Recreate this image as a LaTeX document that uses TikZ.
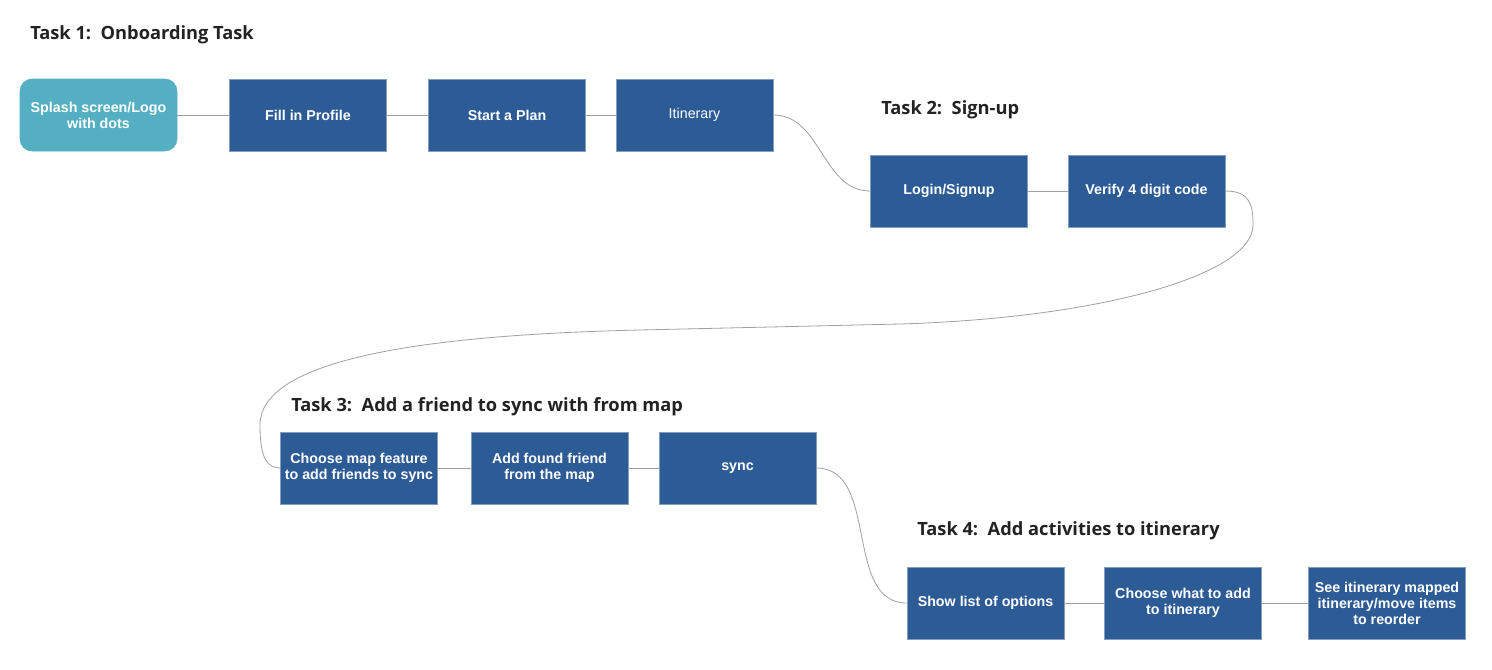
\documentclass[tikz,border=0pt]{standalone}
\usepackage{fontspec}
\setmainfont{Liberation Sans}
\newfontfamily\titlefont{Open Sans}
\usetikzlibrary{positioning}
\definecolor{stepblue}{RGB}{45,91,150}
\definecolor{splashteal}{RGB}{85,175,194}
\definecolor{linkgray}{RGB}{160,160,160}
\definecolor{titleink}{RGB}{34,34,34}
\tikzset{
  stepbox/.style={rectangle,fill=stepblue,draw=stepblue!60!white,line width=0.4pt,
    minimum width=117.75pt,minimum height=54pt,inner sep=2pt,align=center,
    text=white,font=\fontsize{10.7}{12}\selectfont\bfseries},
  splashbox/.style={stepbox,fill=splashteal,draw=splashteal,rounded corners=9pt},
  tasktitle/.style={anchor=base west,inner sep=0pt,text=titleink,
    font=\titlefont\fontsize{13.7}{16}\selectfont\bfseries},
  link/.style={draw=linkgray,line width=0.6pt}
}
\begin{document}
\begin{tikzpicture}[x=0.75pt,y=-0.75pt]
\useasboundingbox (0,0) rectangle (1492,669);
% task titles
\node (t1) [tasktitle] at (30,39) {Task 1:\ \ Onboarding Task};
\node (t2) [tasktitle] at (881,114) {Task 2:\ \ Sign-up};
\node (t3) [tasktitle] at (291,411) {Task 3:\ \ Add a friend to sync with from map};
\node (t4) [tasktitle] at (917,535) {Task 4:\ \ Add activities to itinerary};
% task 1
\node (splash) [splashbox] at (98.5,115) {Splash screen/Logo\\with dots};
\node (profile) [stepbox] at (308,115) {Fill in Profile};
\node (plan) [stepbox] at (507,115) {Start a Plan};
\node (itin) [stepbox,font=\fontsize{10.7}{12}\selectfont] at (694.5,115) {Itinerary};
% task 2
\node (login) [stepbox] at (949,191) {Login/Signup};
\node (verify) [stepbox] at (1146.5,191) {Verify 4 digit code};
% task 3
\node (mapfeat) [stepbox] at (359,468) {Choose map feature\\to add friends to sync};
\node (found) [stepbox] at (549.5,468) {Add found friend\\from the map};
\node (sync) [stepbox] at (737.5,468) {sync};
% task 4
\node (options) [stepbox] at (985.5,603) {Show list of options};
\node (choose) [stepbox] at (1183,603) {Choose what to add\\to itinerary};
\node (mapped) [stepbox] at (1387,603) {See itinerary mapped\\itinerary/move items\\to reorder};
% connectors
\draw[link] (splash.east) -- (profile.west);
\draw[link] (profile.east) -- (plan.west);
\draw[link] (plan.east) -- (itin.west);
\draw[link] (itin.east) to[out=0,in=180] (login.west);
\draw[link] (login.east) -- (verify.west);
\coordinate (bendA) at (1253,225);
\coordinate (bendB) at (900,324);
\coordinate (bendC) at (640,330);
\coordinate (bendD) at (260,425);
\draw[link] (verify.east) .. controls (1250,191) and (1253,205) .. (bendA)
  .. controls (1253,275) and (1100,318) .. (bendB) -- (bendC)
  .. controls (420,335) and (260,360) .. (bendD)
  .. controls (260,460) and (268,468) .. (mapfeat.west);
\draw[link] (mapfeat.east) -- (found.west);
\draw[link] (found.east) -- (sync.west);
\draw[link] (sync.east) to[out=0,in=180] (options.west);
\draw[link] (options.east) -- (choose.west);
\draw[link] (choose.east) -- (mapped.west);
\end{tikzpicture}
\end{document}
